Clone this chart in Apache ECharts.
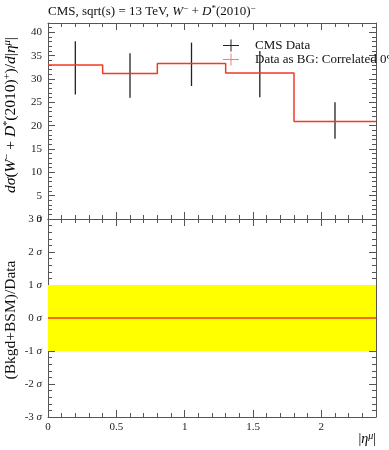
<!DOCTYPE html>
<html><head><meta charset="utf-8">
<script src="https://cdn.jsdelivr.net/npm/echarts@6/dist/echarts.min.js"></script>
<style>html,body{margin:0;padding:0;background:#fff}#c{width:389px;height:450px}</style>
</head><body><div id="c"></div>
<script>
const binEdges = [0, 0.4, 0.8, 1.3, 1.8, 2.4];
const binCenters = [0.2, 0.6, 1.05, 1.55, 2.1];
const cmsValues = [33.0, 31.2, 33.3, 31.3, 20.9];
const cmsErrLow = [26.7, 26.0, 28.5, 26.1, 17.2];
const cmsErrHigh = [38.1, 35.5, 37.8, 36.0, 25.0];
const bgValues = [33.0, 31.2, 33.3, 31.3, 20.9];
const bandRange = [-1, 1];
const ratioValue = 0;
const xRange = [0, 2.4];
const yTopRange = [0, 42];
const sigmaRange = [-3, 3];
const topTickLabels = [0, 5, 10, 15, 20, 25, 30, 35, 40];
const sigmaTickLabels = [-3, -2, -1, 0, 1, 2, 3];
const xTickLabels = [0, 0.5, 1, 1.5, 2];

const FONT = 'Liberation Serif';
const AX = '#555';
const RED = '#ee3b22';
const chart = echarts.init(document.getElementById('c'), null, {renderer: 'canvas'});

const stepData = binEdges.map((e, i) => [e, bgValues[Math.min(i, bgValues.length - 1)]]);
const errData = binCenters.map((c, i) => [c, cmsErrLow[i], cmsErrHigh[i], cmsValues[i]]);

function mkRich(fs, ss) {
  return {
    n: {fontFamily: FONT, fontSize: fs, fontWeight: 'normal', color: '#111'},
    i: {fontFamily: FONT, fontSize: fs, fontWeight: 'normal', fontStyle: 'italic', color: '#111'},
    s: {fontFamily: FONT, fontSize: ss, fontWeight: 'normal', color: '#111', verticalAlign: 'top', padding: [0, 0, Math.round(fs * 0.45), 0]},
    si: {fontFamily: FONT, fontSize: ss, fontWeight: 'normal', fontStyle: 'italic', color: '#111', verticalAlign: 'top', padding: [0, 0, Math.round(fs * 0.45), 0]}
  };
}

function xAxisCommon(gi, pos, labels) {
  return {
    type: 'value', gridIndex: gi, position: pos, min: xRange[0], max: xRange[1], interval: 0.5,
    axisLine: {show: true, onZero: false, lineStyle: {color: AX, width: 1}},
    axisTick: {show: true, inside: true, length: 7, lineStyle: {color: AX}},
    minorTick: {show: true, splitNumber: 5, length: 4, lineStyle: {color: AX}},
    splitLine: {show: false},
    axisLabel: {show: labels, margin: 5, fontFamily: FONT, fontSize: 11, color: '#222',
      customValues: xTickLabels, formatter: v => String(v)}
  };
}
function yAxisCommon(gi, pos, min, max, interval, labels, fmt, vals) {
  return {
    type: 'value', gridIndex: gi, position: pos, min: min, max: max, interval: interval,
    axisLine: {show: true, onZero: false, lineStyle: {color: AX, width: 1}},
    axisTick: {show: true, inside: true, length: 7, lineStyle: {color: AX}},
    minorTick: {show: true, splitNumber: 5, length: 4, lineStyle: {color: AX}},
    splitLine: {show: false},
    axisLabel: {show: labels, margin: 6, fontFamily: FONT, fontSize: 11, color: '#222',
      customValues: vals, hideOverlap: false,
      formatter: fmt, rich: {n: {fontFamily: FONT, fontSize: 11, color: '#222'}, i: {fontFamily: FONT, fontSize: 11, fontStyle: 'italic', color: '#222'}}}
  };
}

const option = {
  animation: false,
  backgroundColor: '#fff',
  title: {
    left: 48, top: 4, padding: 0,
    text: '{n|CMS, sqrt(s) = 13 TeV, }{i|W}{s|−}{n| + }{i|D}{s|*}{n|(2010)}{s|−}',
    textStyle: {fontWeight: 'normal', rich: mkRich(13, 9)}
  },
  legend: {
    left: 218, top: 34, orient: 'vertical', itemGap: 1, itemWidth: 16, itemHeight: 12,
    textStyle: {fontFamily: FONT, fontSize: 13, color: '#111', padding: [0, 0, 0, 11]},
    data: [
      {name: 'CMS Data', icon: 'path://M0,5.5h16v1h-16z M7.5,0h1v12h-1z', itemStyle: {color: '#222'}},
      {name: 'Data as BG: Correlated 0%', icon: 'path://M0,5.5h16v1h-16z M7.5,0h1v12h-1z', itemStyle: {color: '#f08070'}}
    ]
  },
  grid: [
    {left: 48, top: 23, width: 328, height: 196, show: false},
    {left: 48, top: 219, width: 328, height: 198, show: false}
  ],
  xAxis: [
    xAxisCommon(0, 'bottom', false),
    xAxisCommon(0, 'top', false),
    xAxisCommon(1, 'bottom', true),
    xAxisCommon(1, 'top', false)
  ],
  yAxis: [
    yAxisCommon(0, 'left', yTopRange[0], yTopRange[1], 5, true, v => String(v), topTickLabels),
    yAxisCommon(0, 'right', yTopRange[0], yTopRange[1], 5, false, v => String(v), topTickLabels),
    yAxisCommon(1, 'left', sigmaRange[0], sigmaRange[1], 1, true, v => '{n|' + (v < 0 ? '-' + (-v) : v) + '} {i|σ}', sigmaTickLabels),
    yAxisCommon(1, 'right', sigmaRange[0], sigmaRange[1], 1, false, v => String(v), sigmaTickLabels)
  ],
  graphic: [
    {type: 'text', x: 11, y: 115, rotation: Math.PI / 2,
      style: {text: '{i|dσ}{n|(}{i|W}{s|−}{n| + }{i|D}{s|*}{n|(2010)}{s|+}{n|)/}{i|d}{n||}{i|η}{si|μ}{n||}',
        rich: mkRich(15.5, 10.5), align: 'center', verticalAlign: 'middle'}},
    {type: 'text', x: 11, y: 320, rotation: Math.PI / 2,
      style: {text: '(Bkgd+BSM)/Data', fontFamily: FONT, fontSize: 15.5, fill: '#111', align: 'center', verticalAlign: 'middle'}},
    {type: 'text', x: 376, y: 439,
      style: {text: '{n||}{i|η}{si|μ}{n||}', rich: mkRich(14, 10), align: 'right', verticalAlign: 'middle'}}
  ],
  series: [
    {
      name: 'CMS Data', type: 'custom', xAxisIndex: 0, yAxisIndex: 0, color: '#222', z: 3,
      data: errData,
      encode: {x: 0, y: [1, 2]},
      renderItem: (params, api) => {
        const p1 = api.coord([api.value(0), api.value(1)]);
        const p2 = api.coord([api.value(0), api.value(2)]);
        return {type: 'line', shape: {x1: p1[0], y1: p1[1], x2: p2[0], y2: p2[1]},
          style: {stroke: '#222', lineWidth: 1.3}};
      }
    },
    {
      name: 'Data as BG: Correlated 0%', type: 'line', xAxisIndex: 0, yAxisIndex: 0, step: 'end',
      data: stepData, showSymbol: false, color: RED, z: 4,
      lineStyle: {color: RED, width: 1.5}
    },
    {
      name: 'ratio', type: 'line', xAxisIndex: 2, yAxisIndex: 2,
      data: [[xRange[0], ratioValue], [xRange[1], ratioValue]], showSymbol: false,
      lineStyle: {color: RED, width: 1.3}, color: RED, z: 4,
      markArea: {silent: true, itemStyle: {color: '#ffff00', opacity: 1},
        data: [[{coord: [xRange[0], bandRange[0]]}, {coord: [xRange[1], bandRange[1]]}]]}
    }
  ]
};
chart.setOption(option);
</script></body></html>
